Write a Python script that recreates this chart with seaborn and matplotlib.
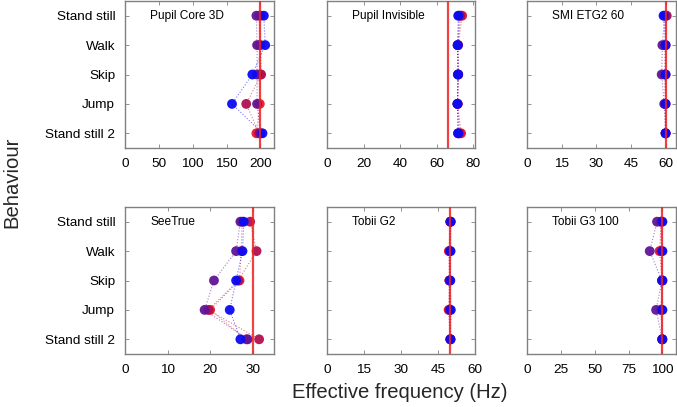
import numpy as np
import pandas as pd
import matplotlib
matplotlib.use("Agg")
import matplotlib.pyplot as plt
import seaborn as sns

behaviours = ["Stand still", "Walk", "Skip", "Jump", "Stand still 2"]
participants = ["P1", "P2", "P3", "P4"]
participant_colors = ["#f0142a", "#b0104e", "#601496", "#0a0af5"]

devices = ["Pupil Core 3D", "Pupil Invisible", "SMI ETG2 60",
           "SeeTrue", "Tobii G2", "Tobii G3 100"]
nominal = [200, 66, 60, 30, 50, 100]
xlims = [(0, 220), (0, 81), (0, 64.5), (0, 35), (0, 60), (0, 110)]
xticks = [[0, 50, 100, 150, 200], [0, 20, 40, 60, 80], [0, 15, 30, 45, 60],
          [0, 10, 20, 30], [0, 15, 30, 45, 60], [0, 25, 50, 75, 100]]

# values[device][participant] -> per behaviour (Stand still, Walk, Skip, Jump, Stand still 2)
pupil_core = {
    "P1": [198, 199, 200, 199, 194],
    "P2": [200, 200, 201, 179, 198],
    "P3": [194, 195, 195, 195, 200],
    "P4": [205, 207, 188, 158, 203],
}
pupil_invisible = {
    "P1": [74.0, 71.8, 71.8, 71.6, 73.4],
    "P2": [73.2, 71.6, 71.8, 71.4, 72.6],
    "P3": [72.4, 71.4, 71.6, 71.4, 71.7],
    "P4": [71.8, 71.6, 71.8, 71.4, 71.8],
}
smi = {
    "P1": [60.2, 60.0, 60.0, 60.0, 60.0],
    "P2": [60.5, 59.8, 59.6, 59.8, 60.0],
    "P3": [59.6, 58.6, 58.3, 59.4, 60.0],
    "P4": [59.1, 60.0, 60.0, 60.0, 60.0],
}
seetrue = {
    "P1": [27.5, 27.3, 26.9, 20.0, 28.5],
    "P2": [29.4, 30.9, 26.6, 19.6, 31.5],
    "P3": [27.1, 26.1, 20.9, 18.7, 28.8],
    "P4": [27.9, 27.6, 26.1, 24.6, 27.1],
}
tobii_g2 = {
    "P1": [50.0, 49.4, 49.6, 49.3, 50.0],
    "P2": [50.0, 49.7, 49.7, 49.6, 50.0],
    "P3": [50.0, 49.8, 49.7, 49.8, 50.0],
    "P4": [50.2, 50.1, 50.0, 50.2, 50.1],
}
tobii_g3 = {
    "P1": [99.0, 97.8, 99.8, 99.0, 99.8],
    "P2": [98.8, 99.0, 99.8, 99.0, 99.8],
    "P3": [96.0, 90.6, 99.6, 95.3, 99.8],
    "P4": [100.0, 100.0, 100.0, 100.0, 100.0],
}
all_values = [pupil_core, pupil_invisible, smi, seetrue, tobii_g2, tobii_g3]

sns.set_theme(style="white")
plt.rcParams["font.family"] = ["Liberation Sans", "DejaVu Sans"]

W, H = 677, 407
fig = plt.figure(figsize=(W / 100, H / 100), dpi=100)

lefts = [125, 327, 527]
widths = [149, 148, 149]
tops = [1, 207]
ph = 147

palette = dict(zip(participants, participant_colors))
grey = "#808080"

for i, dev in enumerate(devices):
    r, c = divmod(i, 3)
    ax = fig.add_axes([lefts[c] / W, (H - tops[r] - ph) / H, widths[c] / W, ph / H])
    rows = []
    for p in participants:
        for b_i, b in enumerate(behaviours):
            rows.append({"participant": p, "row": b_i, "freq": all_values[i][p][b_i]})
    df = pd.DataFrame(rows)
    sns.lineplot(data=df, x="freq", y="row", hue="participant", palette=palette,
                 sort=False, estimator=None, units="participant", linestyle=":",
                 linewidth=0.8, alpha=0.55, legend=False, ax=ax, zorder=2)
    sns.scatterplot(data=df, x="freq", y="row", hue="participant", palette=palette,
                    s=50, linewidth=0, alpha=0.95, legend=False, ax=ax, zorder=3)
    ax.axvline(nominal[i], color="#f02020", lw=1.6, alpha=0.85, zorder=4)
    ax.set_xlim(*xlims[i])
    ax.set_ylim(4.5, -0.5)
    ax.set_xticks(xticks[i])
    ax.set_yticks(range(len(behaviours)))
    if c == 0:
        ax.set_yticklabels(behaviours)
    else:
        ax.set_yticklabels([])
    ax.set_xlabel("")
    ax.set_ylabel("")
    for sp in ax.spines.values():
        sp.set_color(grey)
        sp.set_linewidth(1.0)
    ax.tick_params(direction="in", length=3, width=0.6, color=grey,
                   top=True, right=True, left=True, bottom=True,
                   labelsize=9.7, labelcolor="black", pad=7)
    ax.text(0.17, 0.895, dev, transform=ax.transAxes, fontsize=8.6, color="black",
            ha="left", va="center")

fig.text(400 / W, 1 - 393 / H, "Effective frequency (Hz)", ha="center", va="center",
         fontsize=14.6)
fig.text(12 / W, 1 - 182 / H, "Behaviour", ha="center", va="center",
         rotation=90, fontsize=14.6)

fig.savefig("out.png", dpi=100)
